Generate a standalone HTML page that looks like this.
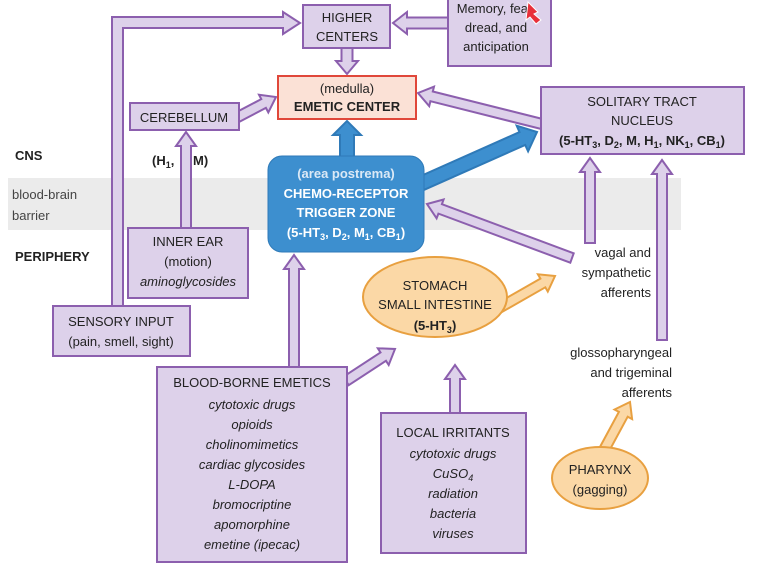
<!DOCTYPE html>
<html><head><meta charset="utf-8"><style>
body{margin:0;background:#fff;}
svg{display:block;font-family:"Liberation Sans",Arial,sans-serif;}
text{font-size:13px;fill:#222;}
.b{font-weight:bold;}
.i{font-style:italic;}
</style></head><body>
<svg id="s" width="772" height="566" viewBox="0 0 772 566" xmlns="http://www.w3.org/2000/svg">
<rect x="8" y="178" width="673" height="52" fill="#ebebeb"/>
<g id="arrows"></g>
<polygon points="112,306 112,17 283,17 283,12 300,23 283,34 283,28 123,28 123,306" fill="#ddd1ea" stroke="#8c5fae" stroke-width="2"/>
<g fill="#ddd1ea" stroke="#8c5fae" stroke-width="2">
<rect x="303" y="5" width="87" height="43"/>
<rect x="448" y="-3" width="103" height="69"/>
<rect x="130" y="103" width="109" height="27"/>
<rect x="541" y="87" width="203" height="67"/>
<rect x="128" y="228" width="120" height="70"/>
<rect x="53" y="306" width="137" height="50"/>
<rect x="157" y="367" width="190" height="195"/>
<rect x="381" y="413" width="145" height="140"/>
</g>
<rect x="278" y="76" width="138" height="43" fill="#fbe1d6" stroke="#e0473a" stroke-width="2"/>
<rect x="268" y="156" width="156" height="96" rx="14" fill="#3d8fcf" stroke="#2f7ab8" stroke-width="1"/>
<ellipse cx="435" cy="297" rx="72" ry="40" fill="#fbd8a6" stroke="#e8a040" stroke-width="2"/>
<ellipse cx="600" cy="478" rx="48" ry="31" fill="#fbd8a6" stroke="#e8a040" stroke-width="2"/>
<g text-anchor="middle">
<text x="347" y="22">HIGHER</text><text x="347" y="41">CENTERS</text>
<text x="496" y="13">Memory, fear,</text><text x="496" y="32">dread, and</text><text x="496" y="51">anticipation</text>
<text x="347" y="93">(medulla)</text><text x="347" y="111" class="b">EMETIC CENTER</text>
<text x="184" y="122">CEREBELLUM</text>
<text x="642" y="106">SOLITARY TRACT</text><text x="642" y="125">NUCLEUS</text>
<text x="642" y="145" class="b">(5-HT<tspan font-size="9" dy="3">3</tspan><tspan dy="-3">, D</tspan><tspan font-size="9" dy="3">2</tspan><tspan dy="-3">, M, H</tspan><tspan font-size="9" dy="3">1</tspan><tspan dy="-3">, NK</tspan><tspan font-size="9" dy="3">1</tspan><tspan dy="-3">, CB</tspan><tspan font-size="9" dy="3">1</tspan><tspan dy="-3">)</tspan></text>
<text x="346" y="178" class="b" style="fill:#dbe9f6">(area postrema)</text>
<text x="346" y="198" class="b" style="fill:#fff">CHEMO-RECEPTOR</text>
<text x="346" y="217" class="b" style="fill:#fff">TRIGGER ZONE</text>
<text x="346" y="237" class="b" style="fill:#fff">(5-HT<tspan font-size="9" dy="3">3</tspan><tspan dy="-3">, D</tspan><tspan font-size="9" dy="3">2</tspan><tspan dy="-3">, M</tspan><tspan font-size="9" dy="3">1</tspan><tspan dy="-3">, CB</tspan><tspan font-size="9" dy="3">1</tspan><tspan dy="-3">)</tspan></text>
<text x="188" y="246">INNER EAR</text><text x="188" y="266">(motion)</text><text x="188" y="286" class="i">aminoglycosides</text>
<text x="121" y="326">SENSORY INPUT</text><text x="121" y="346">(pain, smell, sight)</text>
<text x="435" y="290">STOMACH</text><text x="435" y="309">SMALL INTESTINE</text>
<text x="435" y="330" class="b">(5-HT<tspan font-size="9" dy="3">3</tspan><tspan dy="-3">)</tspan></text>
<text x="252" y="387">BLOOD-BORNE EMETICS</text>
<text x="252" y="409" class="i">cytotoxic drugs</text><text x="252" y="429" class="i">opioids</text><text x="252" y="449" class="i">cholinomimetics</text><text x="252" y="469" class="i">cardiac glycosides</text><text x="252" y="489" class="i">L-DOPA</text><text x="252" y="509" class="i">bromocriptine</text><text x="252" y="529" class="i">apomorphine</text><text x="252" y="549" class="i">emetine (ipecac)</text>
<text x="453" y="437">LOCAL IRRITANTS</text>
<text x="453" y="458" class="i">cytotoxic drugs</text><text x="453" y="478" class="i">CuSO<tspan font-size="9" dy="3">4</tspan></text><text x="453" y="498" class="i">radiation</text><text x="453" y="518" class="i">bacteria</text><text x="453" y="538" class="i">viruses</text>
<text x="600" y="474">PHARYNX</text><text x="600" y="494">(gagging)</text>
</g>
<g text-anchor="end">
<text x="651" y="257">vagal and</text><text x="651" y="277">sympathetic</text><text x="651" y="297">afferents</text>
<text x="672" y="357">glossopharyngeal</text><text x="672" y="377">and trigeminal</text><text x="672" y="397">afferents</text>
</g>
<text x="15" y="160" class="b">CNS</text>
<text x="12" y="199" style="fill:#444">blood-brain</text><text x="12" y="220" style="fill:#444">barrier</text>
<text x="15" y="261" class="b">PERIPHERY</text>
<text x="152" y="165" class="b">(H<tspan font-size="9" dy="3">1</tspan><tspan dy="-3">,</tspan></text>
<text x="193" y="165" class="b">M)</text>
<polygon points="528,2 538,12 534,14 541,20 536,24 530,17 526,20" fill="#e8303a" stroke="#fff" stroke-width="1"/>
</svg>
<script>
function arrow(g,x1,y1,x2,y2,w,hw,hl,fill,stroke){
 var dx=x2-x1,dy=y2-y1,L=Math.sqrt(dx*dx+dy*dy),ux=dx/L,uy=dy/L,nx=-uy,ny=ux;
 var bx=x2-ux*hl,by=y2-uy*hl;
 var p=[[x1+nx*w/2,y1+ny*w/2],[bx+nx*w/2,by+ny*w/2],[bx+nx*hw/2,by+ny*hw/2],[x2,y2],[bx-nx*hw/2,by-ny*hw/2],[bx-nx*w/2,by-ny*w/2],[x1-nx*w/2,y1-ny*w/2]];
 var e=document.createElementNS("http://www.w3.org/2000/svg","polygon");
 e.setAttribute("points",p.map(function(a){return a[0].toFixed(1)+","+a[1].toFixed(1)}).join(" "));
 e.setAttribute("fill",fill);e.setAttribute("stroke",stroke);e.setAttribute("stroke-width","2");
 document.getElementById(g).appendChild(e);
}
var P="#ddd1ea",PS="#8c5fae",B="#3d8fcf",BS="#2f7ab8",O="#fbd8a6",OS="#e8a040";
arrow("arrows",347,47,347,74,11,22,13,P,PS);
arrow("arrows",449,23,393,23,11,22,14,P,PS);
arrow("arrows",236,118,276,97,10,20,14,P,PS);
arrow("arrows",186,229,186,132,10,20,14,P,PS);
arrow("arrows",542,124,418,93,10,20,14,P,PS);
arrow("arrows",347,157,347,121,14,28,14,B,BS);
arrow("arrows",420,184,537,132,14,28,16,B,BS);
arrow("arrows",572,258,427,204,10,20,14,P,PS);
arrow("arrows",590,243,590,158,10,20,14,P,PS);
arrow("arrows",662,340,662,160,10,20,14,P,PS);
arrow("arrows",294,368,294,255,10,20,14,P,PS);
arrow("arrows",346,381,395,349,10,20,14,P,PS);
arrow("arrows",492,312,555,276,10,20,14,O,OS);
arrow("arrows",455,414,455,365,10,20,14,P,PS);
arrow("arrows",604,450,630,402,10,20,14,O,OS);
</script>
</body></html>
